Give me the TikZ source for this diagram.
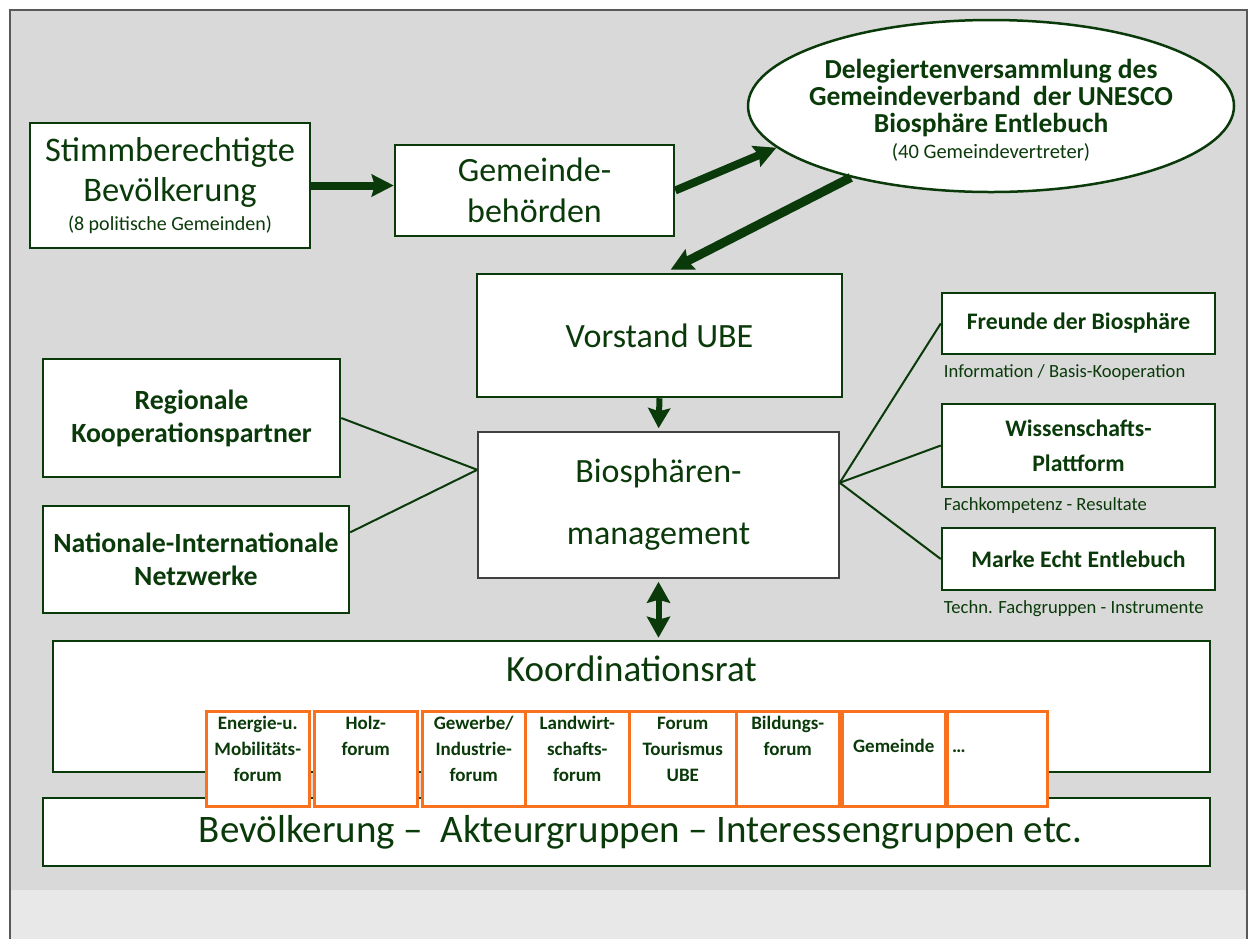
\documentclass[tikz,border=0pt]{standalone}
\usepackage{fontspec}
\setmainfont{Carlito}
\usepackage{tikz}
\usetikzlibrary{arrows.meta,positioning,shapes.geometric}
\definecolor{dkgreen}{HTML}{0A3A0A}
\definecolor{bggray}{HTML}{D9D9D9}
\definecolor{lightbg}{HTML}{E8E8E8}
\definecolor{forumorange}{HTML}{F7711E}
\definecolor{mgmtgray}{HTML}{404040}
\newcommand{\fsz}[2]{\fontsize{#1}{#2}\selectfont}
\tikzset{
  greenbox/.style={draw=dkgreen, fill=white, line width=2.5pt, text=dkgreen, align=center, inner sep=0pt},
  forumbox/.style={draw=forumorange, fill=white, line width=2.5pt, inner sep=0pt, anchor=north west, minimum height=95pt},
  forumtxt/.style={text=dkgreen, font=\bfseries\fsz{19}{26}, align=center, inner sep=0pt},
  sublabel/.style={text=dkgreen, font=\fsz{18.6}{22}, inner sep=0pt, anchor=base west},
  link/.style={draw=dkgreen, line width=2pt},
  fatarrow/.style={draw=dkgreen, line width=#1, -{Stealth[length=22pt,width=22pt,inset=3pt]}},
  twoarrow/.style={draw=dkgreen, line width=6pt, {Stealth[length=21pt,width=23pt,inset=3pt]}-{Stealth[length=21pt,width=23pt,inset=3pt]}},
}

\begin{document}
\begin{tikzpicture}[x=1pt,y=-1pt]
\useasboundingbox (0,0) rectangle (1257,938);
\fill[bggray] (10,10) rectangle (1247,890);
\fill[lightbg] (10,890) rectangle (1247,945);
\draw[black!65, line width=1.5pt] (10,945) -- (10,10) -- (1247,10) -- (1247,945);

\node[greenbox, minimum width=280pt, minimum height=125pt, font=\fsz{34.5}{40}] (stimm) at (170,185.5)
  {Stimmberechtigte\\Bevölkerung\\[-11pt]{\fsz{20}{24}(8 politische Gemeinden)}};
\node[greenbox, minimum width=279pt, minimum height=91pt, font=\fsz{34}{41}] (gemeinde) at (534.5,190.5)
  {Gemeinde-\\behörden};
\node[ellipse, draw=dkgreen, fill=white, line width=2.5pt, minimum width=486pt, minimum height=172pt, inner sep=0pt] (deleg) at (991,106) {};
\node[text=dkgreen, align=center, inner sep=0pt, font=\bfseries\fsz{27.5}{27}] (delegtxt) at ([yshift=-4pt]deleg.center)
  {Delegiertenversammlung des\\Gemeindeverband\ \ der UNESCO\\Biosphäre Entlebuch\\[-1pt]{\mdseries\fsz{20.5}{24}(40 Gemeindevertreter)}};

\node[greenbox, minimum width=365pt, minimum height=123pt, font=\fsz{34}{41}] (vorstand) at (659.5,335.5) {Vorstand UBE};
\node[greenbox, draw=mgmtgray, line width=1.5pt, minimum width=361pt, minimum height=146pt, font=\fsz{34}{62}] (bio) at (658.5,505)
  {Biosphären-\\management};

\node[greenbox, minimum width=297pt, minimum height=118pt, font=\bfseries\fsz{27.8}{33}] (reg) at (191.5,418)
  {Regionale\\Kooperationspartner};
\node[greenbox, minimum width=306pt, minimum height=107pt, font=\bfseries\fsz{27.8}{33}] (nat) at (196,559.5)
  {Nationale-Internationale\\Netzwerke};

\node[greenbox, minimum width=273pt, minimum height=61pt, font=\bfseries\fsz{23.7}{35}] (freunde) at (1078.5,323.5) {Freunde der Biosphäre};
\node[greenbox, minimum width=273pt, minimum height=83pt, font=\bfseries\fsz{23.7}{35}] (wiss) at (1078.5,445.5) {Wissenschafts-\\Plattform};
\node[greenbox, minimum width=273pt, minimum height=62pt, font=\bfseries\fsz{23.7}{35}] (marke) at (1078.5,559) {Marke Echt Entlebuch};
\node[sublabel] (freundeinfo) at ([shift={(3,22)}]freunde.south west) {Information / Basis-Kooperation};
\node[sublabel] (wissinfo) at ([shift={(3,22)}]wiss.south west) {Fachkompetenz - Resultate};
\node[sublabel] (markeinfo) at ([shift={(3,22)}]marke.south west) {Techn. Fachgruppen - Instrumente};

\node[greenbox, minimum width=1157pt, minimum height=131pt] (koord) at (631.5,706.5) {};
\node[text=dkgreen, font=\fsz{37}{44}, inner sep=0pt, below=16pt of koord.north] (koordtitle) {Koordinationsrat};
\node[greenbox, minimum width=1167pt, minimum height=68pt, font=\fsz{39}{46}] (bevoelk) at (626.5,832)
  {\hspace*{28pt}Bevölkerung –\ \ Akteurgruppen – Interessengruppen etc.};

\foreach \l/\r/\dy/\txt [count=\i] in {
  205/308/1/{Energie-u.\\Mobilitäts-\\forum},
  313/416/1/{Holz-\\forum},
  421/524/1/{Gewerbe/\\Industrie-\\forum},
  524/628/1/{Landwirt-\\schafts-\\forum},
  628/735/1/{Forum\\Tourismus\\UBE},
  735/838/1/{Bildungs-\\forum},
  841/944/24/{Gemeinde},
  946/1046/1/{}}
{
  \node[forumbox, minimum width={\r-\l}] (f\i) at (\l,710) {};
  \node[forumtxt, below=\dy pt of f\i.north] (ft\i) {\strut\txt};
}
\node[forumtxt, anchor=base west] (fdots) at ([shift={(6,42)}]f8.north west) {\ldots};

\draw[fatarrow=8pt] (stimm.east) -- (stimm.east -| gemeinde.west);
\draw[fatarrow=8pt] (gemeinde.east) -- (deleg.191);
\draw[fatarrow=9pt, shorten >=7pt] (deleg.207) -- ([xshift=5pt]vorstand.north);
\draw[draw=dkgreen, line width=6pt, -{Stealth[length=20pt,width=22pt,inset=3pt]}, shorten >=3pt] (vorstand.south) -- (bio.north);
\draw[twoarrow, shorten <=3pt, shorten >=2pt] (bio.south) -- (bio.south |- koord.north);

\draw[link] (reg.east) -- (bio.169);
\draw[link] (nat.10) -- (bio.169);
\draw[link] (bio.7) -- (freunde.west);
\draw[link] (bio.7) -- (wiss.west);
\draw[link] (bio.7) -- (marke.west);
\end{tikzpicture}
\end{document}
